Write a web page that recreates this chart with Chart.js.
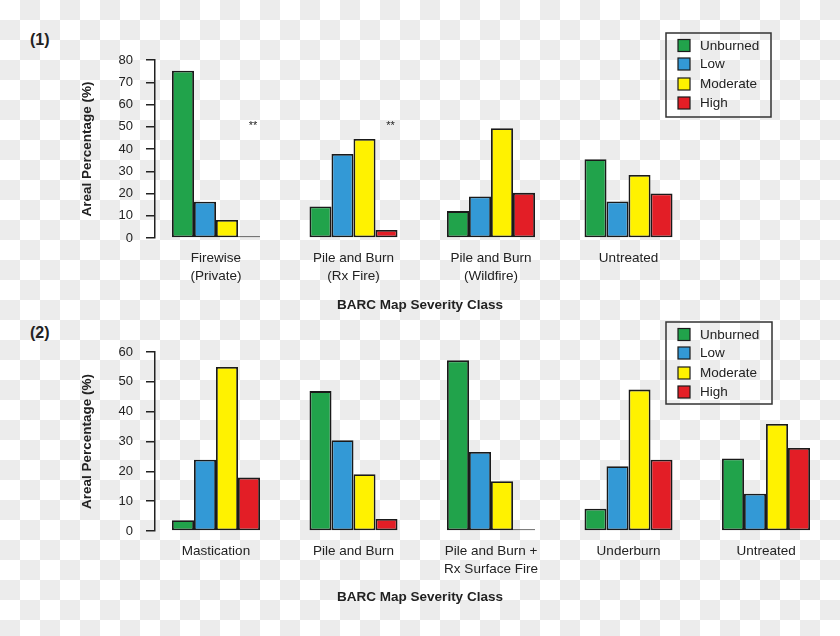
<!DOCTYPE html>
<html>
<head>
<meta charset="utf-8">
<script src="https://cdn.jsdelivr.net/npm/chart.js@4/dist/chart.umd.min.js"></script>
<style>
  html, body { margin: 0; padding: 0; }
  body {
    width: 840px; height: 636px; position: relative; overflow: hidden;
    background: repeating-conic-gradient(#ececec 0 25%, #ffffff 0 50%) 0 0 / 40px 40px;
    font-family: "Liberation Sans", Arial, sans-serif;
  }
  canvas { position: absolute; left: 0; }
  .panel { position: absolute; left: 30px; font: bold 16px "Liberation Sans", Arial, sans-serif; color: #222; }
</style>
</head>
<body>
<div class="panel" style="top:31px">(1)</div>
<div class="panel" style="top:324px">(2)</div>
<canvas id="c1" width="840" height="318" style="top:0"></canvas>
<canvas id="c2" width="840" height="318" style="top:318px"></canvas>
<script>
// ---- data ----
const seriesNames = ['Unburned', 'Low', 'Moderate', 'High'];
const seriesColors = ['#21a34b', '#3399d6', '#fff200', '#e31e26'];

const cats1 = [['Firewise', '(Private)'], ['Pile and Burn', '(Rx Fire)'], ['Pile and Burn', '(Wildfire)'], ['Untreated']];
const unburned1 = [75.2, 14.2, 12.1, 35.4];
const low1      = [16.3, 37.8, 18.7, 16.4];
const moderate1 = [8.1, 44.5, 49.3, 28.3];
const high1     = [0.8, 3.6, 20.3, 20.0];
const stars1    = [0, 1];      // categories marked with "**"
const starValue1 = 51;
const yTicks1 = [0, 10, 20, 30, 40, 50, 60, 70, 80];

const cats2 = ['Mastication', 'Pile and Burn', ['Pile and Burn +', 'Rx Surface Fire'], 'Underburn', 'Untreated'];
const unburned2 = [3.6, 46.9, 57.2, 7.5, 24.3];
const low2      = [23.9, 30.4, 26.5, 21.7, 12.5];
const moderate2 = [55.0, 19.0, 16.7, 47.4, 35.9];
const high2     = [17.9, 4.0, 0.6, 23.9, 27.8];
const yTicks2 = [0, 10, 20, 30, 40, 50, 60];

const xTitle = 'BARC Map Severity Class';
const yTitle = 'Areal Percentage (%)';

// ---- helpers ----
const FONT = '"Liberation Sans", Arial, sans-serif';
const INK = '#222';

const legendBox = {
  id: 'legendBox',
  afterDraw(chart, args, opts) {
    const ctx = chart.ctx;
    const b = opts.box;
    ctx.save();
    ctx.strokeStyle = '#333';
    ctx.lineWidth = 1.5;
    ctx.strokeRect(b.x, b.y, b.w, b.h);
    ctx.font = '13.5px ' + FONT;
    ctx.textBaseline = 'middle';
    ctx.textAlign = 'left';
    const offs = [12.5, 31, 51, 70];
    chart.data.datasets.forEach((ds, i) => {
      const cy = b.y + offs[i];
      ctx.fillStyle = ds.backgroundColor;
      ctx.fillRect(b.x + 12, cy - 6, 12, 12);
      ctx.strokeStyle = '#1a1a1a';
      ctx.lineWidth = 1.2;
      ctx.strokeRect(b.x + 12, cy - 6, 12, 12);
      ctx.fillStyle = INK;
      ctx.fillText(ds.label, b.x + 34, cy + 0.5);
    });
    ctx.restore();
  }
};

const starsPlugin = {
  id: 'stars',
  afterDatasetsDraw(chart, args, opts) {
    if (!opts.cats || !opts.cats.length) return;
    const ctx = chart.ctx;
    const meta = chart.getDatasetMeta(chart.data.datasets.length - 1);
    const y = chart.scales.y.getPixelForValue(opts.value);
    ctx.save();
    ctx.font = '11px ' + FONT;
    ctx.fillStyle = INK;
    ctx.textAlign = 'center';
    ctx.textBaseline = 'middle';
    opts.cats.forEach(i => {
      const el = meta.data[i];
      ctx.fillText('**', el.x + 4, y + 1);
    });
    ctx.restore();
  }
};

function makeChart(id, cats, series, yTicks, cfg) {
  const datasets = series.map((vals, s) => ({
    label: seriesNames[s],
    data: vals.map((v, i) => ({ x: i, y: v })),
    backgroundColor: seriesColors[s],
    borderColor: '#1a1a1a',
    borderWidth: 1.8,
    borderSkipped: false,
    categoryPercentage: 0.64,
    barPercentage: 1.0
  }));
  return new Chart(document.getElementById(id), {
    type: 'bar',
    data: { datasets },
    plugins: [legendBox, starsPlugin],
    options: {
      responsive: false,
      animation: false,
      devicePixelRatio: 1,
      layout: { padding: { top: cfg.top, left: 0, right: 0, bottom: 0 } },
      plugins: {
        legend: { display: false },
        tooltip: { enabled: false },
        title: {
          display: true, position: 'bottom', text: xTitle, color: INK,
          font: { family: FONT, size: 13.5, weight: 'bold' },
          padding: { top: 0, bottom: cfg.titleBottom }
        },
        legendBox: { box: cfg.legend },
        stars: { cats: cfg.stars || [], value: cfg.starValue || 0 }
      },
      scales: {
        x: {
          type: 'linear',
          offset: false,
          min: -0.4436, max: 4.538,
          grid: { display: false, drawTicks: false, offset: false },
          border: { display: false },
          afterBuildTicks: (sc) => { sc.ticks = cats.map((c, i) => ({ value: i })); },
          afterFit: (sc) => { sc.height = cfg.xHeight; },
          ticks: {
            autoSkip: false, maxRotation: 0, minRotation: 0,
            padding: 10.8, color: INK,
            font: { family: FONT, size: 13.5, lineHeight: 1.35 },
            callback: (v) => cats[v]
          }
        },
        y: {
          min: 0, max: yTicks[yTicks.length - 1],
          afterBuildTicks: (sc) => { sc.ticks = yTicks.map(v => ({ value: v })); },
          afterFit: (sc) => { sc.width = 155; },
          grid: { drawOnChartArea: false, drawTicks: true, tickLength: 9, color: '#222', lineWidth: 1.5 },
          border: { display: true, color: '#222', width: 1.5 },
          ticks: { padding: 13, color: INK, font: { family: FONT, size: 13 } },
          title: {
            display: true, text: yTitle, color: INK,
            font: { family: FONT, size: 13.5, weight: 'bold' },
            padding: { top: 79.5, bottom: 0 }
          }
        }
      }
    }
  });
}

makeChart('c1', cats1, [unburned1, low1, moderate1, high1], yTicks1, {
  top: 60, titleBottom: 4.9, xHeight: 58.9,
  legend: { x: 666, y: 33, w: 105, h: 84 },
  stars: stars1, starValue: starValue1
});
makeChart('c2', cats2, [unburned2, low2, moderate2, high2], yTicks2, {
  top: 34, titleBottom: 30.9, xHeight: 57.9,
  legend: { x: 666, y: 4, w: 106, h: 82 }
});
</script>
</body>
</html>
